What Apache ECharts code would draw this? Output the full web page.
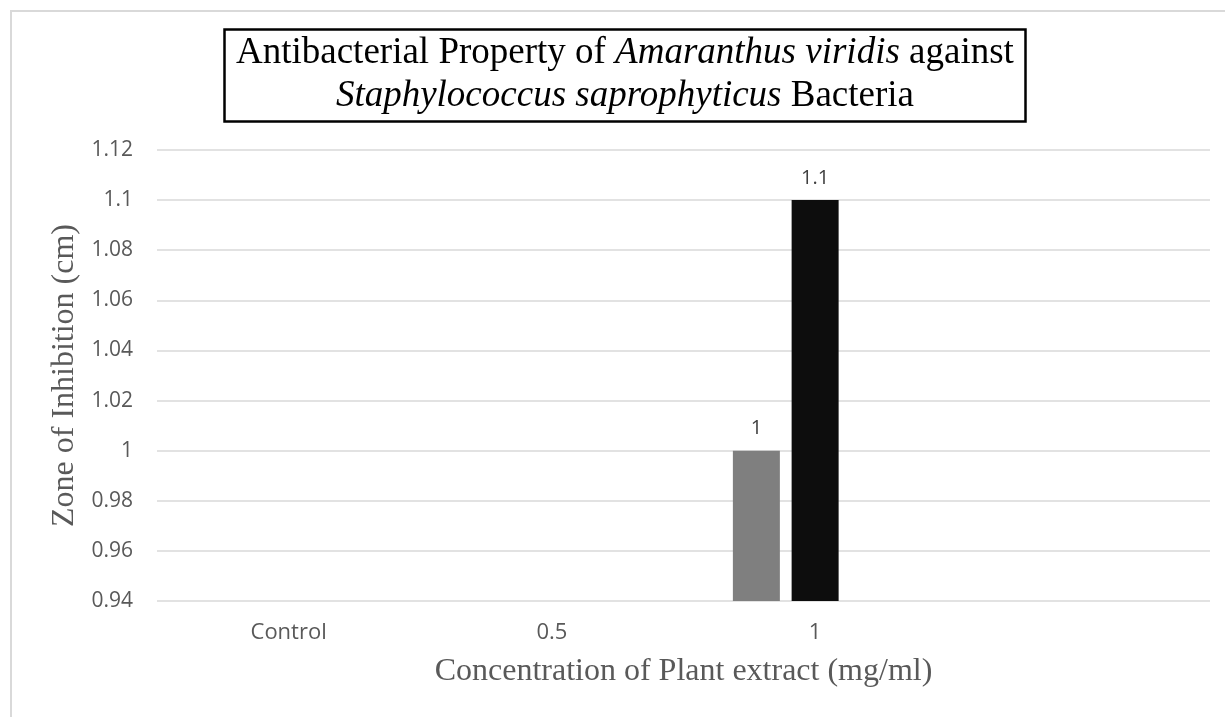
<!DOCTYPE html>
<html>
<head>
<meta charset="utf-8">
<script src="https://cdn.jsdelivr.net/npm/echarts@6/dist/echarts.min.js"></script>
<style>
  html, body { margin: 0; padding: 0; background: #fff; }
  #chart { width: 1225px; height: 717px; }
</style>
</head>
<body>
<div id="chart"></div>
<script>
// categories on the x axis (4th slot is empty, as in the original sheet)
var categories = ['Control', '0.5', '1', '']
// zone of inhibition (cm), '-' = no bar
var seriesGrey = ['-', '-', 1, '-']
var seriesBlack = ['-', '-', 1.1, '-']
var seriesBlank = ['-', '-', '-', '-']

var yMin = 0.94
var yMax = 1.12
var yStep = 0.02

var sans = "'Open Sans', 'Liberation Sans', sans-serif"
var serif = "'Liberation Serif', 'Times New Roman', serif"

var chart = echarts.init(document.getElementById('chart'))

function barLabel() {
  return {
    show: true,
    position: 'top',
    distance: 12,
    color: '#404040',
    fontFamily: sans,
    fontSize: 20
  }
}

chart.setOption({
  animation: false,
  backgroundColor: '#fff',
  graphic: [{
    type: 'rect',
    silent: true,
    shape: { x: 11, y: 11, width: 1300, height: 800 },
    style: { fill: 'none', stroke: '#d9d9d9', lineWidth: 2 }
  }],
  title: {
    left: 224,
    top: 26,
    padding: [6, 12, 7, 12],
    borderColor: '#000',
    borderWidth: 2.5,
    text: '{n|Antibacterial Property of }{i|Amaranthus viridis}{n| against}\n{i|Staphylococcus saprophyticus}{n| Bacteria}',
    textStyle: {
      fontWeight: 'normal',
      rich: {
        n: { fontFamily: serif, fontSize: 37, fontWeight: 'normal', color: '#000', lineHeight: 43, align: 'center' },
        i: { fontFamily: serif, fontSize: 37, fontWeight: 'normal', fontStyle: 'italic', color: '#000', lineHeight: 43, align: 'center' }
      }
    }
  },
  grid: {
    left: 157,
    right: 15,
    top: 150,
    bottom: 116
  },
  xAxis: {
    type: 'category',
    data: categories,
    name: 'Concentration of Plant extract (mg/ml)',
    nameLocation: 'middle',
    nameGap: 55,
    nameTextStyle: { fontFamily: serif, fontSize: 32, color: '#595959' },
    axisLine: { show: false },
    axisTick: { show: false },
    axisLabel: { margin: 21, color: '#595959', fontFamily: sans, fontSize: 22 }
  },
  yAxis: {
    type: 'value',
    min: yMin,
    max: yMax,
    interval: yStep,
    name: 'Zone of Inhibition (cm)',
    nameLocation: 'middle',
    nameGap: 76,
    nameTextStyle: { fontFamily: serif, fontSize: 32, color: '#595959' },
    axisLine: { show: false },
    axisTick: { show: false },
    axisLabel: { margin: 24, color: '#595959', fontFamily: sans, fontSize: 21 },
    splitLine: { lineStyle: { color: '#d9d9d9', width: 1.5 } }
  },
  series: [
    {
      type: 'bar',
      data: seriesGrey,
      barWidth: 47,
      barGap: '25%',
      itemStyle: { color: '#7f7f7f' },
      label: barLabel()
    },
    {
      type: 'bar',
      data: seriesBlack,
      barWidth: 47,
      barGap: '25%',
      itemStyle: { color: '#0d0d0d' },
      label: barLabel()
    },
    {
      type: 'bar',
      data: seriesBlank,
      barWidth: 47,
      barGap: '25%',
      itemStyle: { color: '#a5a5a5' }
    }
  ]
})
</script>
</body>
</html>
